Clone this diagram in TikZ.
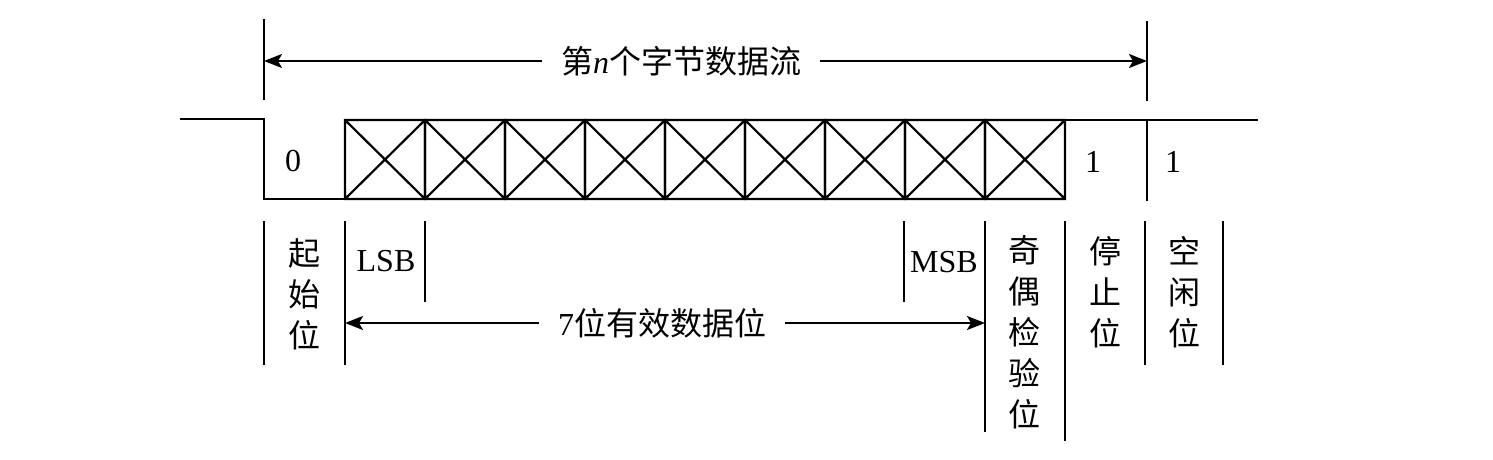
\documentclass[tikz,border=0pt]{standalone}
\usepackage{fontspec}
\setmainfont{Liberation Serif}
\newfontfamily\cjk{Noto Sans CJK SC}
\usetikzlibrary{arrows.meta}
\tikzset{
  bitlbl/.style={font=\cjk\fontsize{16}{20.5}\selectfont,align=center,inner sep=0pt},
  numlbl/.style={font=\fontsize{16}{19}\selectfont,inner sep=0pt},
  spanlbl/.style={font=\cjk\fontsize{16}{19}\selectfont,inner xsep=9pt,inner ysep=0pt},
  spanarr/.style={-{Stealth[length=9pt,width=7pt,inset=2pt]}}
}
\begin{document}
\begin{tikzpicture}[x=0.5pt,y=-0.5pt,line width=1.1pt]
\useasboundingbox (0,0) rectangle (1493,460);
\draw (264,19) -- (264,100);
\draw (1147,21) -- (1147,101);
\coordinate (frameL) at (264,61);
\coordinate (frameR) at (1147,61);
\node[spanlbl] (frame) at (681,61) {第{\rmfamily\itshape n}个字节数据流};
\draw[spanarr] (frame.west) -- (frameL);
\draw[spanarr] (frame.east) -- (frameR);

\draw (180,119) -- (264,119) -- (264,199) -- (345,199);
\draw (345,120) -- (1258,120);
\foreach \x in {0,...,8}
	\draw (345+\x*80,120) rectangle ++(80,79) -- ++(-80,-79) (345+\x*80,199) -- ++(80,-79);
\draw (1147,120) -- (1147,201);
\node[numlbl] (b0) at (293,161) {0};
\node[numlbl] (b1) at (1093,162) {1};
\node[numlbl] (b2) at (1173,162) {1};

\foreach \x/\e in {264/365, 345/365, 425/302, 904/302, 985/432, 1065/441, 1145/365, 1223/365}
	\draw (\x,221) -- (\x,\e);
\node[numlbl] (lsb) at (386,261) {LSB};
\node[numlbl] (msb) at (944,262) {MSB};
\node[bitlbl] (start) at (304,294) {起\\始\\位};
\node[bitlbl] (parity) at (1024,332) {奇\\偶\\检\\验\\位};
\node[bitlbl] (stop) at (1105,292) {停\\止\\位};
\node[bitlbl] (idle) at (1184,292) {空\\闲\\位};

\coordinate (dataL) at (345,323);
\coordinate (dataR) at (985,323);
\node[spanlbl] (data) at (662,323) {{\rmfamily 7}位有效数据位};
\draw[spanarr] (data.west) -- (dataL);
\draw[spanarr] (data.east) -- (dataR);
\end{tikzpicture}
\end{document}
